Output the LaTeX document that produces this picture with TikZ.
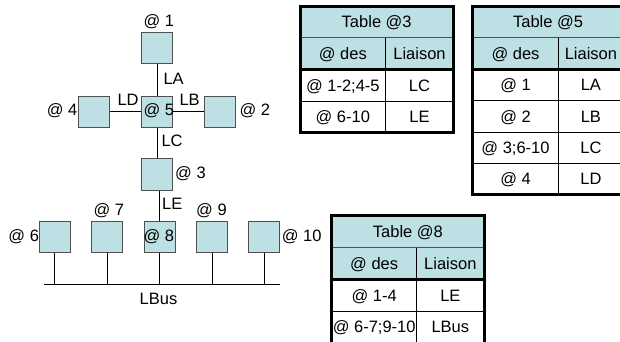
\documentclass[tikz,border=0pt]{standalone}
\usepackage{fontspec}
\setmainfont{Liberation Sans}
\definecolor{boxfill}{RGB}{188,224,227}
\definecolor{boxline}{RGB}{80,80,80}
\begin{document}
\begin{tikzpicture}[x=1pt,y=-1pt,
  every node/.style={font=\fontsize{16.5}{19}\selectfont},
  station/.style={draw=boxline, fill=boxfill, line width=0.8pt, minimum width=31pt, minimum height=31.5pt, inner sep=0pt},
  lbl/.style={anchor=base west, inner sep=0pt},
  link/.style={draw=black, line width=0.9pt},
  cell/.style={inner sep=0pt, text height=11.8pt, text depth=0pt, anchor=center},
  thickb/.style={draw=black, line width=3pt},
  thinb/.style={draw=black, line width=0.9pt},
  headsep/.style={draw=boxline, line width=0.9pt},
]
\useasboundingbox (0,0) rectangle (620,341);

% stations
\node[station] (b1) at (157,48) {};
\node[station] (b4) at (94.3,111.7) {};
\node[station] (b5) at (157,111.7) {};
\node[station] (b2) at (220,111.7) {};
\node[station] (b3) at (157,174.5) {};
\node[station] (b6) at (54.5,237) {};
\node[station] (b7) at (107,237) {};
\node[station] (b8) at (159.5,237) {};
\node[station] (b9) at (212,237) {};
\node[station] (b10) at (264,237) {};

% links
\draw[link] (b1) -- (b5);
\draw[link] (b4) -- (b5);
\draw[link] (b5) -- (b2);
\draw[link] (b5) -- (b3);
\draw[link] (b8.north) -- (b8.north |- b3.south);
\coordinate (busL) at (44,284.3);
\coordinate (busR) at (280,284.3);
\draw[link] (busL) -- (busR);
\foreach \b in {b6,b7,b8,b9,b10} \draw[link] (\b.south) -- (\b.south |- busL);

% labels
\node[lbl] (l1) at (143.3,26.7) {@ 1};
\node[lbl] (lA) at (163.3,84.3) {LA};
\node[lbl] (lD) at (117.3,105.3) {LD};
\node[lbl] (lB) at (179.3,105.3) {LB};
\node[lbl] (l5) at (143.3,115.3) {@ 5};
\node[lbl] (l4) at (46.7,115.3) {@ 4};
\node[lbl] (l2) at (239.3,115.3) {@ 2};
\node[lbl] (lC) at (161.3,146) {LC};
\node[lbl] (l3) at (175,178.3) {@ 3};
\node[lbl] (lE) at (162,209) {LE};
\node[lbl] (l7) at (93.3,215) {@ 7};
\node[lbl] (l9) at (196,215) {@ 9};
\node[lbl] (l6) at (8.3,241.7) {@ 6};
\node[lbl] (l8) at (143.3,241.7) {@ 8};
\node[lbl] (l10) at (281.7,241.7) {@ 10};
\node[lbl] (lBus) at (139.5,304) {LBus};

% Table @3
\fill[boxfill] (300,6) rectangle (453.3,69.3);
\draw[headsep] (300,37.7) -- (453.3,37.7);
\draw[thinb] (385.7,37.7) -- (385.7,132.7);
\draw[thinb] (300,101) -- (453.3,101);
\draw[thickb] (300,69.3) -- (453.3,69.3);
\draw[thickb] (300,6) rectangle (453.3,132.7);
\node[cell] (t3h) at (376.7,21.85) {Table @3};
\node[cell] (t3a) at (342.85,53.5) {@ des};
\node[cell] (t3b) at (419.5,53.5) {Liaison};
\node[cell] (t3r1a) at (342.85,85.15) {@ 1-2;4-5};
\node[cell] (t3r1b) at (419.5,85.15) {LC};
\node[cell] (t3r2a) at (342.85,116.85) {@ 6-10};
\node[cell] (t3r2b) at (419.5,116.85) {LE};

% Table @5
\fill[boxfill] (472.7,6) rectangle (623.5,69.3);
\draw[headsep] (472.7,37.7) -- (623.5,37.7);
\draw[thinb] (558.3,37.7) -- (558.3,194.3);
\draw[thinb] (472.7,100.7) -- (623.5,100.7);
\draw[thinb] (472.7,132.3) -- (623.5,132.3);
\draw[thinb] (472.7,163.7) -- (623.5,163.7);
\draw[thickb] (472.7,69.3) -- (623.5,69.3);
\draw[thickb] (472.7,6) rectangle (623.5,194.3);
\node[cell] (t5h) at (548.1,21.85) {Table @5};
\node[cell] (t5a) at (515.5,53.5) {@ des};
\node[cell] (t5b) at (590.9,53.5) {Liaison};
\node[cell] (t5r1a) at (515.5,85) {@ 1};
\node[cell] (t5r1b) at (590.9,85) {LA};
\node[cell] (t5r2a) at (515.5,116.5) {@ 2};
\node[cell] (t5r2b) at (590.9,116.5) {LB};
\node[cell] (t5r3a) at (515.5,148) {@ 3;6-10};
\node[cell] (t5r3b) at (590.9,148) {LC};
\node[cell] (t5r4a) at (515.5,179) {@ 4};
\node[cell] (t5r4b) at (590.9,179) {LD};

% Table @8
\fill[boxfill] (331.7,215) rectangle (484,279.3);
\draw[headsep] (331.7,247.7) -- (484,247.7);
\draw[thinb] (416.7,247.7) -- (416.7,343);
\draw[thinb] (331.7,311) -- (484,311);
\draw[thickb] (331.7,279.3) -- (484,279.3);
\draw[thickb] (331.7,215) rectangle (484,343);
\node[cell] (t8h) at (407.9,231.35) {Table @8};
\node[cell] (t8a) at (374.2,263.5) {@ des};
\node[cell] (t8b) at (450.35,263.5) {Liaison};
\node[cell] (t8r1a) at (374.2,295.15) {@ 1-4};
\node[cell] (t8r1b) at (450.35,295.15) {LE};
\node[cell] (t8r2a) at (374.2,326.85) {@ 6-7;9-10};
\node[cell] (t8r2b) at (450.35,326.85) {LBus};
\end{tikzpicture}
\end{document}
